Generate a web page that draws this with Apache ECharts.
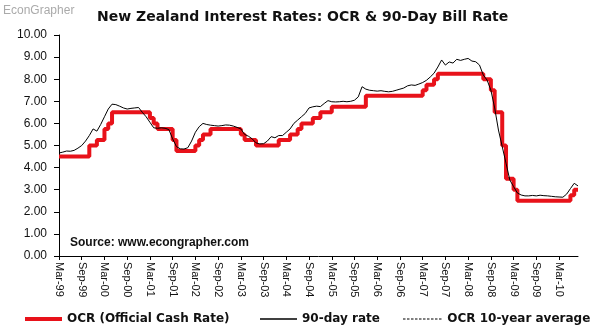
<!DOCTYPE html>
<html><head><meta charset="utf-8">
<script src="https://cdn.jsdelivr.net/npm/echarts@6/dist/echarts.min.js"></script>
<style>html,body{margin:0;padding:0;background:#fff}#c{width:599px;height:331px}</style>
</head><body><div id="c"></div>
<script>
// Monthly categories Mar-99 .. Aug-10
var monthNames = ['Jan','Feb','Mar','Apr','May','Jun','Jul','Aug','Sep','Oct','Nov','Dec'];
var startYear = 1999, startMonth = 2, monthCount = 138;
var categories = [];
for (var i = 0; i < monthCount; i++) {
  var m = (startMonth + i) % 12, y = startYear + Math.floor((startMonth + i) / 12);
  categories.push(monthNames[m] + '-' + String(y % 100).padStart(2, '0'));
}

// OCR (Official Cash Rate), monthly, Mar-99 .. Aug-10
var ocr = [
  4.5,4.5,4.5,4.5,4.5,4.5,4.5,4.5,5.0,5.0,                       // 1999 Mar-Dec
  5.25,5.25,5.75,6.0,6.5,6.5,6.5,6.5,6.5,6.5,6.5,6.5,             // 2000
  6.5,6.5,6.25,6.0,5.75,5.75,5.75,5.75,5.25,4.75,4.75,4.75,       // 2001
  4.75,4.75,5.0,5.25,5.5,5.5,5.75,5.75,5.75,5.75,5.75,5.75,       // 2002
  5.75,5.75,5.5,5.25,5.25,5.25,5.0,5.0,5.0,5.0,5.0,5.0,           // 2003
  5.25,5.25,5.25,5.5,5.5,5.75,6.0,6.0,6.0,6.25,6.25,6.5,          // 2004
  6.5,6.5,6.75,6.75,6.75,6.75,6.75,6.75,6.75,6.75,6.75,7.25,      // 2005
  7.25,7.25,7.25,7.25,7.25,7.25,7.25,7.25,7.25,7.25,7.25,7.25,    // 2006
  7.25,7.25,7.5,7.75,7.75,8.0,8.25,8.25,8.25,8.25,8.25,8.25,      // 2007
  8.25,8.25,8.25,8.25,8.25,8.25,8.0,8.0,7.5,6.5,6.5,5.0,          // 2008
  3.5,3.5,3.0,2.5,2.5,2.5,2.5,2.5,2.5,2.5,2.5,2.5,                // 2009
  2.5,2.5,2.5,2.5,2.5,2.75,3.0,3.0                                // 2010 Jan-Aug
];

// 90-day bank bill rate, monthly, Mar-99 .. Aug-10
var bill90 = [
  4.66,4.70,4.75,4.74,4.78,4.88,5.0,5.2,5.45,5.75,
  5.65,5.95,6.3,6.65,6.87,6.85,6.78,6.7,6.65,6.68,6.7,6.72,
  6.5,6.3,6.05,5.8,5.78,5.8,5.78,5.72,5.3,4.95,4.85,4.84,
  4.9,5.2,5.6,5.85,6.0,5.95,5.92,5.9,5.88,5.9,5.93,5.92,
  5.88,5.82,5.75,5.5,5.42,5.3,5.12,5.07,5.08,5.2,5.4,5.35,
  5.45,5.45,5.6,5.75,6.0,6.15,6.3,6.45,6.7,6.75,6.78,6.76,
  6.9,7.03,6.98,6.97,6.98,7.0,6.98,7.0,7.05,7.2,7.66,7.55,
  7.5,7.48,7.46,7.48,7.45,7.43,7.45,7.5,7.55,7.6,7.7,7.74,
  7.72,7.78,7.85,7.95,8.1,8.27,8.55,8.87,8.64,8.78,8.73,8.9,
  8.85,8.9,8.94,8.82,8.79,8.64,8.19,7.96,7.51,6.7,5.7,4.95,
  4.2,3.44,3.14,2.85,2.76,2.72,2.72,2.74,2.72,2.75,2.73,2.72,
  2.7,2.68,2.67,2.66,2.8,3.05,3.29,3.17
];

// OCR 10-year average (shown in legend only)
var ocrAvg = [];

var yTicks = {min: 0, max: 10, interval: 1};
var seriesNames = ['OCR (Official Cash Rate)', '90-day rate', 'OCR 10-year average'];

var dashIcon = 'path://M0,0h2.5v1h-2.5zM4,0h2.5v1h-2.5zM8,0h2.5v1h-2.5zM12,0h2.5v1h-2.5zM16,0h2.5v1h-2.5zM20,0h2.5v1h-2.5zM24,0h2.5v1h-2.5zM28,0h2.5v1h-2.5zM32,0h2.5v1h-2.5zM36,0h2.5v1h-2.5z';

var chart = echarts.init(document.getElementById('c'), null, {renderer: 'canvas'});
var legendText = {fontFamily: 'DejaVu Sans', fontWeight: 'bold', fontSize: 12, color: '#111'};
chart.setOption({
  animation: false,
  backgroundColor: '#fff',
  title: {
    text: 'New Zealand Interest Rates: OCR & 90-Day Bill Rate',
    left: 97, top: 10, padding: 0,
    textStyle: {fontFamily: 'DejaVu Sans', fontWeight: 'bold', fontSize: 14, color: '#111'}
  },
  graphic: [
    {type: 'text', left: 3, top: 5, style: {text: 'EconGrapher', fontFamily: 'Liberation Sans', fontSize: 12, fill: '#aaaaaa'}},
    {type: 'text', left: 70, top: 237, style: {text: 'Source: www.econgrapher.com', fontFamily: 'Liberation Sans', fontWeight: 'bold', fontSize: 12, fill: '#111'}}
  ],
  legend: [
    {data: [{name: seriesNames[0], icon: 'rect'}], left: 20, top: 308, itemWidth: 37, itemHeight: 4, itemGap: 0, textStyle: legendText},
    {data: [{name: seriesNames[1], icon: 'rect'}], left: 255, top: 308, itemWidth: 37, itemHeight: 1.5, itemGap: 0, textStyle: legendText},
    {data: [{name: seriesNames[2], icon: dashIcon}], left: 398, top: 308, itemWidth: 40, itemHeight: 1, itemGap: 0, textStyle: legendText}
  ],
  grid: {left: 59, right: 21, top: 35, bottom: 75, containLabel: false},
  xAxis: {
    type: 'category', data: categories, boundaryGap: false,
    axisLine: {lineStyle: {color: '#000', width: 1}},
    axisTick: {show: true, interval: 5, length: 4, lineStyle: {color: '#000'}},
    axisLabel: {interval: 5, rotate: -90, margin: 6, fontFamily: 'Liberation Sans', fontSize: 11, color: '#111'},
    splitLine: {show: false}
  },
  yAxis: {
    type: 'value', min: yTicks.min, max: yTicks.max, interval: yTicks.interval,
    axisLine: {show: true, lineStyle: {color: '#000', width: 1}},
    axisTick: {show: true, length: 5, lineStyle: {color: '#000'}},
    axisLabel: {margin: 12, fontFamily: 'Liberation Sans', fontSize: 12, color: '#111', formatter: function (v) { return v.toFixed(2); }},
    splitLine: {show: false}
  },
  series: [
    {name: seriesNames[0], type: 'line', data: ocr, step: 'end', symbol: 'none', z: 2,
     lineStyle: {color: '#e8121a', width: 4}, itemStyle: {color: '#e8121a'}},
    {name: seriesNames[1], type: 'line', data: bill90, symbol: 'none', z: 3,
     lineStyle: {color: '#000', width: 1}, itemStyle: {color: '#000'}},
    {name: seriesNames[2], type: 'line', data: ocrAvg, symbol: 'none', z: 1,
     lineStyle: {color: '#000', width: 1, type: [3, 2]}, itemStyle: {color: '#000'}}
  ]
});
</script></body></html>
